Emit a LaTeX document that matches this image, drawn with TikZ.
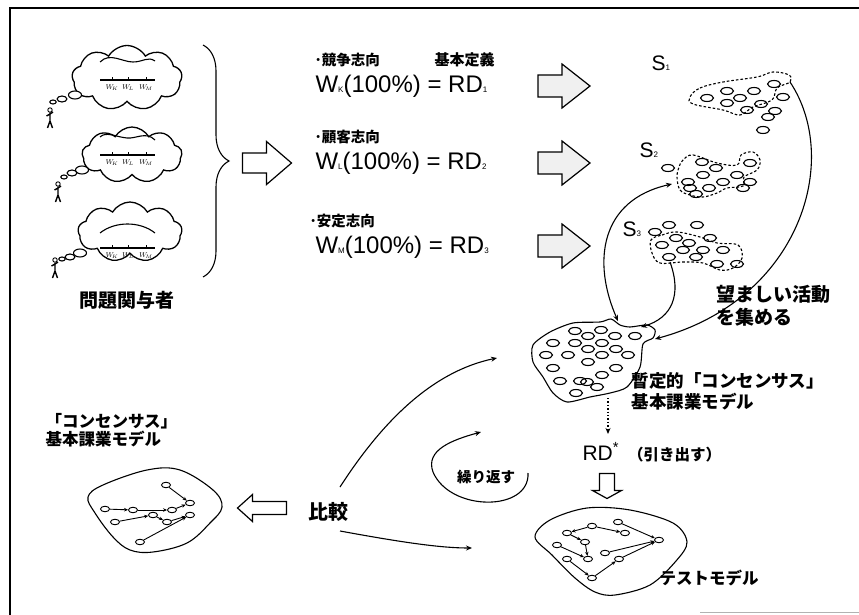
\documentclass[tikz,border=0pt]{standalone}
\usepackage{fontspec}
\setmainfont{Liberation Sans}
\newfontfamily\jp{Noto Sans CJK JP}
\usetikzlibrary{shapes.geometric,shapes.symbols,decorations.pathreplacing,arrows.meta}

\newcommand\jpf[2]{\jp\bfseries\fontsize{#1}{#2}\selectfont}
\newcommand\lo[1]{{\fontsize{8}{8}\selectfont #1}}

\begin{document}
\begin{tikzpicture}[x=1pt,y=-1pt,>={Stealth[length=6pt,width=5pt]},line width=1.1pt,
    label/.style={inner sep=0pt,anchor=west},
    formula/.style={inner sep=0pt,anchor=west,font=\fontsize{24}{24}\selectfont},
    tiny/.style={draw,ellipse,minimum width=9pt,minimum height=5.5pt,inner sep=0pt,line width=0.9pt,fill=white},
    cluster/.style={dash pattern=on 2.6pt off 2pt,line width=1.1pt},
    net/.style={->,line width=0.9pt,>={Stealth[length=4pt,width=3.5pt]}},
    thought/.style={draw,cloud,cloud puffs=9,cloud puff arc=120,aspect=1.7,inner sep=0pt,fill=white,line width=1.3pt},
    pics/fatarrow/.style n args={5}{code={
      \draw[fill=#5,line width=1.2pt] (-#1/2,-#2) -- ({#1/2-#4},-#2) -- ({#1/2-#4},-#3) -- (#1/2,0)
        -- ({#1/2-#4},#3) -- ({#1/2-#4},#2) -- (-#1/2,#2) -- cycle;}},
    pics/person/.style={code={
      \draw[line width=0.9pt] (0,-8) circle (2.2);
      \draw[line width=1.4pt] (0,-5.5) -- (0,3) (-3.5,-2) -- (0,-4) -- (3,-6) (0,3) -- (-2.5,10) (0,3) -- (2.5,10);}}]

\useasboundingbox (0,0) rectangle (859,615);
\draw[line width=2pt] (10,615) -- (10,8) -- (859,8);
\draw[gray!60,line width=1pt] (700,612) -- (859,612);

% stakeholders and their views
\node[thought,minimum width=110pt,minimum height=65pt] (cloudK) at (127,78) {};
\node[thought,minimum width=100pt,minimum height=56pt] (cloudL) at (132,155) {};
\node[thought,minimum width=104pt,minimum height=60pt] (cloudM) at (130,232) {};
\foreach \x/\y/\r in {75/95/1, 62/99/0.75, 53/102/0.5, 82/170/1, 72/173/0.75, 64/177/0.5, 80/253/1, 70/257/0.75, 62/259/0.5}
  \draw[fill=white] (\x,\y) ellipse ({6.5*\r} and {4*\r});
\pic at (50,118) {person};
\pic at (58,192) {person};
\pic at (55,268) {person};

\draw (100,62) .. controls (110,52) and (122,62) .. (133,62) .. controls (143,62) and (148,56) .. (155,61);
\draw (100,137) .. controls (106,131) and (116,137) .. (127,138) .. controls (136,139) and (146,131) .. (155,140);
\draw (100,233) .. controls (115,221) and (140,221) .. (155,233);
\foreach \y in {80,155,248} {
  \draw (100,\y) -- (155,\y);
  \foreach \x in {112,128,146} \draw[line width=0.8pt] (\x,\y) -- (\x,\y-3);
  \node[font=\bfseries\fontsize{7}{7}\selectfont,inner sep=0pt] at (112,\y+8) {$W_{\!K}$};
  \node[font=\bfseries\fontsize{7}{7}\selectfont,inner sep=0pt] at (128,\y+8) {$W_{\!L}$};
  \node[font=\bfseries\fontsize{7}{7}\selectfont,inner sep=0pt] at (146,\y+8) {$W_{\!M}$};
}
\draw[decorate,decoration={brace,amplitude=26pt}] (203,45) -- (203,277);
\node[font=\jpf{19}{22},inner sep=0pt] (stake) at (127,300) {問題関与者};
\pic at (267,163) {fatarrow={49}{10}{21.5}{25}{white}};

% root definitions
\node[label,font=\jpf{14.5}{17}] (vK) at (314,60) {･競争志向};
\node[label,font=\jpf{15}{17}] (rdef) at (434,60) {基本定義};
\node[formula] (rdK) at (315,86) {W\lo{K}(100\%) = RD\lo{1}};
\node[label,font=\jpf{14.5}{17}] (vL) at (314,137) {･顧客志向};
\node[formula] (rdL) at (315,163) {W\lo{L}(100\%) = RD\lo{2}};
\node[label,font=\jpf{14.5}{17}] (vM) at (309,221) {･安定志向};
\node[formula] (rdM) at (315,247) {W\lo{M}(100\%) = RD\lo{3}};
\foreach \y in {86,163,246}
  \pic at (564,\y) {fatarrow={52}{11}{22}{28}{gray!12}};

% activity sets
\node[label,font=\fontsize{21}{21}\selectfont] (sK) at (651,63) {S\lo{1}};
\node[label,font=\fontsize{21}{21}\selectfont] (sL) at (639,150) {S\lo{2}};
\node[label,font=\fontsize{21}{21}\selectfont] (sM) at (622,229) {S\lo{3}};

\draw[cluster] plot[smooth cycle,tension=0.6] coordinates {(690,97) (700,88) (723,82) (757,77) (773,72) (789,75) (790,82) (777,88) (772,100) (753,107) (740,115) (723,110) (693,104)};
\foreach \p in {(707,98),(727,91),(727,103),(740,98),(754,91),(747,110),(761,104),(774,84),(783,97),(775,111),(768,117),(763,130)}
  \draw \p ellipse (6.5 and 3.5);
\draw[cluster] plot[smooth cycle,tension=0.6] coordinates {(683,160) (693,155) (717,163) (737,165) (741,155) (753,152) (760,160) (757,170) (744,177) (743,186) (727,188) (717,193) (703,197) (690,195) (680,190) (677,177) (679,167)};
\foreach \p in {(668,168),(702,162),(716,168),(703,175),(688,182),(690,188),(696,194),(709,188),(723,182),(737,175),(750,163),(750,182),(743,188)}
  \draw \p ellipse (6.5 and 3.5);
\draw[cluster] plot[smooth cycle,tension=0.6] coordinates {(651,240) (662,235) (677,232) (700,237) (717,243) (738,245) (742,258) (733,268) (720,270) (703,263) (683,262) (660,263) (652,253)};
\foreach \p in {(655,232),(669,225),(697,225),(676,238),(689,243),(710,238),(662,245),(683,250),(703,250),(723,250),(669,257),(696,257),(717,264),(737,264)}
  \draw \p ellipse (6.5 and 3.5);

% gathered activities
\draw plot[smooth cycle,tension=0.45] coordinates {(533,345) (550,332) (573,323) (600,322) (611,319) (620,325) (630,327) (647,325) (655,330) (653,338) (643,344) (640,367) (627,387) (610,393) (590,397) (567,402) (553,393) (543,377) (533,362)};
\foreach \p in {(575,331),(601,330),(553,343),(575,343),(588,336),(602,343),(615,336),(635,336),(546,355),(568,355),(588,349),(602,355),(616,349),(628,355),(553,368),(588,362),(616,368),(602,375),(560,381),(580,381),(587,382),(597,387),(576,393)}
  \draw \p ellipse (6.5 and 3.5);
\coordinate (sKend) at (790,82);
\coordinate (sLend) at (672,184);
\coordinate (sMend) at (670,262);
\coordinate (poolA) at (618,321);
\coordinate (poolB) at (641,327);
\coordinate (poolC) at (655,339);
\coordinate (poolBot) at (608,398);
\draw[<->] (sLend) .. controls (600,200) and (592,262) .. (poolA);
\draw[->] (sMend) .. controls (682,295) and (672,318) .. (poolB);
\draw[->] (sKend) .. controls (842,160) and (800,300) .. (poolC);
\node[anchor=north west,inner sep=0pt,align=left,font=\jpf{19}{23}] (gather) at (716,285) {望ましい活動\\を集める};
\node[anchor=north west,inner sep=0pt,align=left,font=\jpf{17.5}{21}] (interim) at (631,372) {暫定的「コンセンサス」\\基本課業モデル};

% derived definition and test model
\node[label,font=\fontsize{21}{21}\selectfont] (rdstar) at (582,452) {RD\textsuperscript{*}\hspace{9pt}{\jpf{15.5}{15.5}（引き出す）}};
\draw[->,dotted,line width=1.4pt] (poolBot) -- (608,434);
\pic[rotate=-90] at (607,486) {fatarrow={25}{7.5}{14.5}{8}{white}};
\draw plot[smooth cycle,tension=0.55] coordinates {(535,537) (550,520) (587,508) (630,510) (673,523) (687,542) (676,561) (650,585) (615,595) (595,592) (575,578) (552,555)};
\node[tiny] (t1) at (567,533) {};
\node[tiny] (t2) at (592,526) {};
\node[tiny] (t3) at (618,522) {};
\node[tiny] (t4) at (625,533) {};
\node[tiny] (t5) at (557,545) {};
\node[tiny] (t6) at (585,542) {};
\node[tiny] (t7) at (605,553) {};
\node[tiny] (t8) at (659,540) {};
\node[tiny] (t9) at (567,559) {};
\node[tiny] (t10) at (588,559) {};
\node[tiny] (t11) at (619,559) {};
\node[tiny] (t12) at (592,578) {};
\draw[net] (t1) -- (t6);
\draw[net] (t2) -- (t4);
\draw[net] (t3) -- (t8);
\draw[net] (t2) -- (t1);
\draw[net] (t6) -- (t10);
\draw[net] (t5) -- (t10);
\draw[net] (t7) -- (t8);
\draw[net] (t9) -- (t12);
\draw[net] (t12) -- (t11);
\draw[net] (t11) -- (t8);
\node[label,font=\jpf{16.5}{17}] (testm) at (659,578) {テストモデル};

% comparison with the consensus model
\node[font=\jpf{20}{20},inner sep=0pt] (cmp) at (328,512) {比較};
\coordinate (cmpUp) at (340,487);
\coordinate (cmpDown) at (340,531);
\coordinate (iterEnd) at (497,358);
\coordinate (testEnd) at (472,548);
\draw[->] (cmpUp) .. controls (380,425) and (430,372) .. (iterEnd);
\draw[->] (cmpDown) .. controls (400,542) and (440,548) .. (testEnd);
\draw[->] (528,473) .. controls (530,512) and (450,512) .. (433,472) .. controls (425,450) and (452,440) .. (481,432);
\node[font=\jpf{14.5}{15},inner sep=0pt] (repeat) at (486,477) {繰り返す};
\pic[rotate=180] at (262,508) {fatarrow={49}{6.5}{13.5}{15}{white}};

\node[anchor=north west,inner sep=0pt,align=left,font=\jpf{16.5}{17.5}] (consensus) at (45,413) {「コンセンサス」\\基本課業モデル};
\draw plot[smooth cycle,tension=0.6] coordinates {(88,497) (103,485) (147,470) (180,470) (213,490) (222,507) (210,523) (187,543) (153,552) (130,550) (113,537) (95,513)};
\node[tiny] (m1) at (166,485) {};
\node[tiny] (m2) at (190,503) {};
\node[tiny] (m3) at (190,515) {};
\node[tiny] (m4) at (105,509) {};
\node[tiny] (m5) at (133,510) {};
\node[tiny] (m6) at (172,510) {};
\node[tiny] (m7) at (153,515) {};
\node[tiny] (m8) at (115,522) {};
\node[tiny] (m9) at (167,522) {};
\node[tiny] (m10) at (140,542) {};
\draw[net] (m1) -- (m2);
\draw[net] (m4) -- (m5);
\draw[net] (m5) -- (m6);
\draw[net] (m6) -- (m2);
\draw[net] (m8) -- (m7);
\draw[net] (m7) -- (m9);
\draw[net] (m9) -- (m3);
\draw[net] (m10) -- (m3);
\end{tikzpicture}
\end{document}
